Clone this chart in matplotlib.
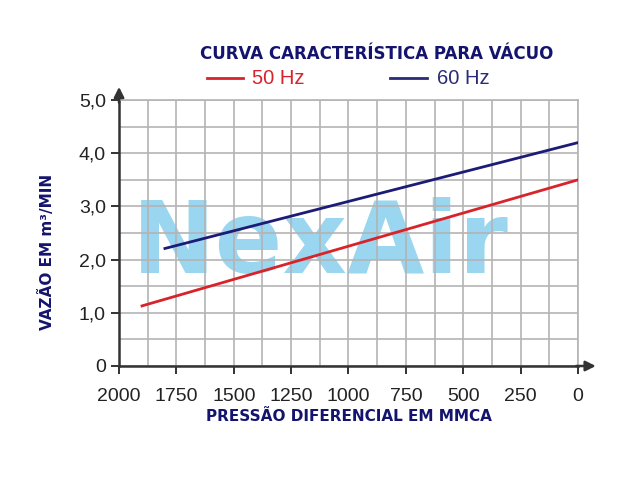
import matplotlib.pyplot as plt

# curve end points (pressure in mmCA, flow in m3/min)
pressure_50 = [1900, 0]
flow_50 = [1.13, 3.5]
pressure_60 = [1800, 0]
flow_60 = [2.21, 4.2]

x_ticks = [2000, 1750, 1500, 1250, 1000, 750, 500, 250, 0]
y_ticks = [0, 1, 2, 3, 4, 5]
y_labels = ['0', '1,0', '2,0', '3,0', '4,0', '5,0']

navy = '#14146e'
red = '#d8232a'
blue = '#1c1c78'
grid_color = '#b4b4b4'

fig = plt.figure(figsize=(6.4, 4.8), dpi=100)

# watermark behind the (transparent) axes so the grid shows on top of it
fig.text(0.206, 0.431, 'NexAir', fontsize=72, fontweight='heavy',
         color='#9ad6ef', zorder=-1, va='baseline', ha='left')

ax = fig.add_axes([0.186, 0.2375, 0.717, 0.554])
ax.patch.set_alpha(0)

ax.set_xlim(2000, 0)
ax.set_ylim(0, 5)

# grid every half step
ax.set_xticks(x_ticks)
ax.set_xticks([x + 125 for x in x_ticks[1:]], minor=True)
ax.set_yticks(y_ticks)
ax.set_yticks([y + 0.5 for y in y_ticks[:-1]], minor=True)
ax.set_xticklabels([str(x) for x in x_ticks])
ax.set_yticklabels(y_labels)
ax.grid(True, which='both', color=grid_color, linewidth=1.2)
ax.set_axisbelow(True)

ax.tick_params(axis='both', which='major', labelsize=14, colors='#222222',
               length=6, width=1.3, direction='out')
ax.tick_params(axis='x', which='major', pad=10)
ax.tick_params(axis='both', which='minor', length=0)
for lbl in ax.get_xticklabels() + ax.get_yticklabels():
    lbl.set_family('Liberation Sans')

for side in ['top', 'right']:
    ax.spines[side].set_color(grid_color)
    ax.spines[side].set_linewidth(1.2)
for side in ['left', 'bottom']:
    ax.spines[side].set_color('#333333')
    ax.spines[side].set_linewidth(1.8)

# arrows at the ends of the axes
ax.annotate('', xy=(0, 1.06), xytext=(0, 0.98), xycoords='axes fraction',
            arrowprops=dict(arrowstyle='-|>', color='#333333', lw=1.8, mutation_scale=15),
            annotation_clip=False)
ax.annotate('', xy=(1.045, 0), xytext=(0.99, 0), xycoords='axes fraction',
            arrowprops=dict(arrowstyle='-|>', color='#333333', lw=1.8, mutation_scale=15),
            annotation_clip=False)

ax.plot(pressure_50, flow_50, color=red, linewidth=2, zorder=3)
ax.plot(pressure_60, flow_60, color=blue, linewidth=2, zorder=3)

ax.set_xlabel('PRESSÃO DIFERENCIAL EM MMCA', fontsize=11, fontweight='bold',
              color=navy, labelpad=3)
ax.set_ylabel('VAZÃO EM m³/MIN', fontsize=11, fontweight='bold', color=navy)
ax.yaxis.set_label_coords(-0.14, 0.43)

fig.text(0.588, 0.888, 'CURVA CARACTERÍSTICA PARA VÁCUO', fontsize=12, fontweight='bold',
         color=navy, ha='center', va='center')

# legend drawn by hand in figure coords
fig.lines.append(plt.Line2D([0.323, 0.380], [0.838, 0.838], color=red, lw=2,
                            transform=fig.transFigure))
fig.text(0.394, 0.836, '50 Hz', fontsize=14.5, color=red, va='center', family='Liberation Sans')
fig.lines.append(plt.Line2D([0.609, 0.667], [0.838, 0.838], color='#2a2a78', lw=2,
                            transform=fig.transFigure))
fig.text(0.683, 0.836, '60 Hz', fontsize=14.5, color='#2a2a78', va='center',
         family='Liberation Sans')

fig.savefig('out.png', dpi=100)
